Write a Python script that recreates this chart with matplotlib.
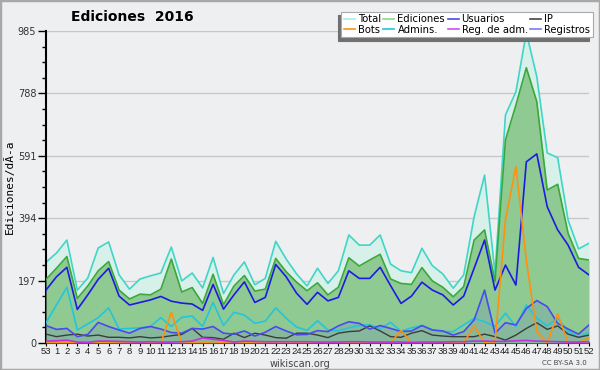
import matplotlib
matplotlib.use("Agg")
import matplotlib.pyplot as plt
from matplotlib.patches import Rectangle
from matplotlib.ticker import MultipleLocator
from matplotlib.lines import Line2D
import numpy as np

weeks = ["53"] + [str(i) for i in range(1, 53)]

total = [255, 284, 325, 167, 205, 300, 319, 215, 170, 202, 212, 221, 303, 196, 221, 174, 270, 156, 215, 256,
         184, 204, 321, 265, 218, 180, 236, 188, 228, 341, 309, 309, 341, 249, 228, 222, 299, 244, 218, 173,
         215, 399, 530, 220, 720, 793, 980, 841, 600, 585, 388, 297, 315]
ediciones = [201, 236, 273, 141, 180, 228, 257, 167, 139, 154, 152, 170, 265, 161, 175, 125, 217, 121, 180, 213,
             164, 170, 267, 225, 192, 165, 190, 152, 176, 269, 243, 262, 280, 202, 188, 185, 238, 196, 176, 146,
             178, 325, 357, 194, 641, 751, 869, 762, 483, 501, 346, 267, 262]
usuarios = [167, 209, 239, 106, 152, 201, 236, 148, 120, 128, 136, 147, 132, 126, 123, 103, 185, 107, 152, 193,
            128, 144, 248, 209, 157, 122, 160, 133, 144, 228, 204, 204, 239, 181, 125, 148, 192, 167, 152, 120,
            148, 236, 325, 167, 246, 183, 572, 597, 430, 357, 309, 239, 215]
ip = [28, 20, 25, 28, 22, 25, 18, 18, 16, 20, 16, 18, 23, 27, 46, 18, 17, 12, 31, 17,
      31, 25, 17, 15, 31, 31, 25, 17, 31, 36, 38, 54, 38, 20, 18, 31, 39, 25, 22, 20,
      20, 20, 28, 20, 9, 25, 46, 64, 43, 54, 28, 18, 25]
bots = [0, 0, 3, 0, 0, 0, 0, 0, 0, 0, 0, 0, 97, 0, 0, 0, 5, 0, 0, 0,
        0, 0, 0, 0, 0, 0, 0, 0, 0, 0, 0, 0, 0, 0, 40, 0, 0, 0, 0, 0,
        0, 54, 0, 0, 390, 557, 260, 36, 0, 92, 0, 0, 16]
admins = [64, 120, 176, 41, 60, 80, 111, 44, 46, 48, 52, 80, 52, 81, 85, 52, 128, 55, 97, 88,
          62, 69, 111, 78, 50, 40, 70, 41, 38, 48, 55, 58, 45, 65, 37, 48, 55, 42, 36, 36,
          57, 78, 67, 52, 94, 52, 120, 78, 54, 78, 36, 18, 33]
reg_adm = [6, 7, 9, 3, 2, 6, 6, 5, 4, 3, 4, 3, 3, 4, 6, 16, 12, 8, 3, 6,
           5, 4, 4, 4, 4, 4, 3, 3, 3, 4, 4, 3, 3, 3, 3, 2, 3, 3, 3, 4,
           4, 6, 6, 5, 5, 7, 8, 6, 5, 4, 3, 3, 4]
registros = [55, 43, 46, 20, 27, 65, 52, 41, 31, 46, 52, 44, 33, 31, 46, 44, 52, 31, 28, 38,
             22, 34, 52, 38, 26, 27, 39, 36, 54, 67, 62, 44, 55, 46, 36, 38, 55, 41, 38, 25,
             36, 73, 167, 31, 64, 57, 109, 134, 115, 62, 44, 28, 57]

yticks = [0, 197, 394, 591, 788, 985]

bg = "#eeeff1"
fig = plt.figure(figsize=(6, 3.7), dpi=100, facecolor=bg)
ax = fig.add_axes([46 / 600, 1 - 343 / 370, 543 / 600, 312 / 370], facecolor=bg)

x = np.arange(len(weeks))

c_total = "#3fd6c6"
c_edic = "#3aa83a"
c_usu = "#1c1ce0"
c_ip = "#3c3c3c"
c_bots = "#ff9010"
c_adm = "#22c6dc"
c_reg = "#c030e0"
c_regis = "#4a4af0"

ax.fill_between(x, 0, total, color="#d8f0ea", lw=0, zorder=1)
ax.plot(x, total, color=c_total, lw=1.2, zorder=2)
ax.fill_between(x, 0, ediciones, color="#8fca93", lw=0, zorder=3)
ax.plot(x, ediciones, color=c_edic, lw=1.2, zorder=4)
ax.fill_between(x, 0, registros, color="#5a6ad0", alpha=0.18, lw=0, zorder=5)
ax.plot(x, usuarios, color=c_usu, lw=1.2, zorder=6)
ax.plot(x, admins, color=c_adm, lw=1.2, zorder=6)
ax.plot(x, ip, color=c_ip, lw=1.0, zorder=6)
ax.plot(x, registros, color=c_regis, lw=1.2, zorder=7)
ax.plot(x, bots, color=c_bots, lw=1.2, zorder=7)
ax.plot(x, reg_adm, color=c_reg, lw=1.2, zorder=7)

ax.set_xlim(0, len(weeks) - 1)
ax.set_ylim(0, 985)
ax.set_yticks(yticks)
ax.yaxis.set_minor_locator(MultipleLocator(197 / 4))
ax.set_xticks(x)
ax.set_xticklabels(weeks, fontsize=6.8, color="#222222", family="Liberation Sans")
ax.tick_params(axis="y", which="major", length=6, width=1, labelsize=7, colors="#000000",
               labelcolor="#333333", pad=1)
ax.tick_params(axis="y", which="minor", length=3, width=1, colors="#000000")
ax.tick_params(axis="x", length=2.5, width=0.8, pad=0.5)
ax.grid(axis="y", color="#c8c8c8", lw=1, zorder=0)
ax.set_axisbelow(True)
for s in ["top", "right"]:
    ax.spines[s].set_visible(False)
ax.spines["left"].set_linewidth(1.5)
ax.spines["bottom"].set_linewidth(1.5)

ax.set_ylabel("Ediciones/dÃ-a", fontsize=8, family="DejaVu Sans Mono", labelpad=2)

fig.text(0.22, 0.953, "Ediciones  2016", fontsize=10, fontweight="bold", ha="center", va="center")
fig.text(0.5, 0.016, "wikiscan.org", fontsize=7, color="#444444", ha="center", va="center")
fig.text(0.978, 0.018, "CC BY-SA 3.0", fontsize=5, color="#444444", ha="right", va="center")

labels = ["Total", "Bots", "Ediciones", "Admins.", "Usuarios", "Reg. de adm.", "IP", "Registros"]
cols = ["#a8ece4", c_bots, "#8ed88e", c_adm, "#4a4ae8", "#d050e8", "#444444", "#7a7af0"]
handles = [Line2D([], [], color=c, lw=1.2) for c in cols]
leg = fig.legend(handles, labels, ncol=4, loc="upper right", bbox_to_anchor=(0.988, 0.968),
                 fontsize=7.2, handlelength=1.1, handletextpad=0.3, columnspacing=0.25,
                 labelspacing=0.05, borderpad=0.25, borderaxespad=0.0, fancybox=False, framealpha=1,
                 edgecolor="#aaaaaa", shadow={"color": "#707070", "alpha": 1, "ox": -2.5, "oy": -2.5})
leg.get_frame().set_linewidth(0.8)

fig.patches.append(Rectangle((0, 0), 1, 1, transform=fig.transFigure, fill=False,
                             edgecolor="#a8a8a8", lw=2.5, zorder=10))

fig.savefig("out.png", dpi=100, facecolor=bg)
